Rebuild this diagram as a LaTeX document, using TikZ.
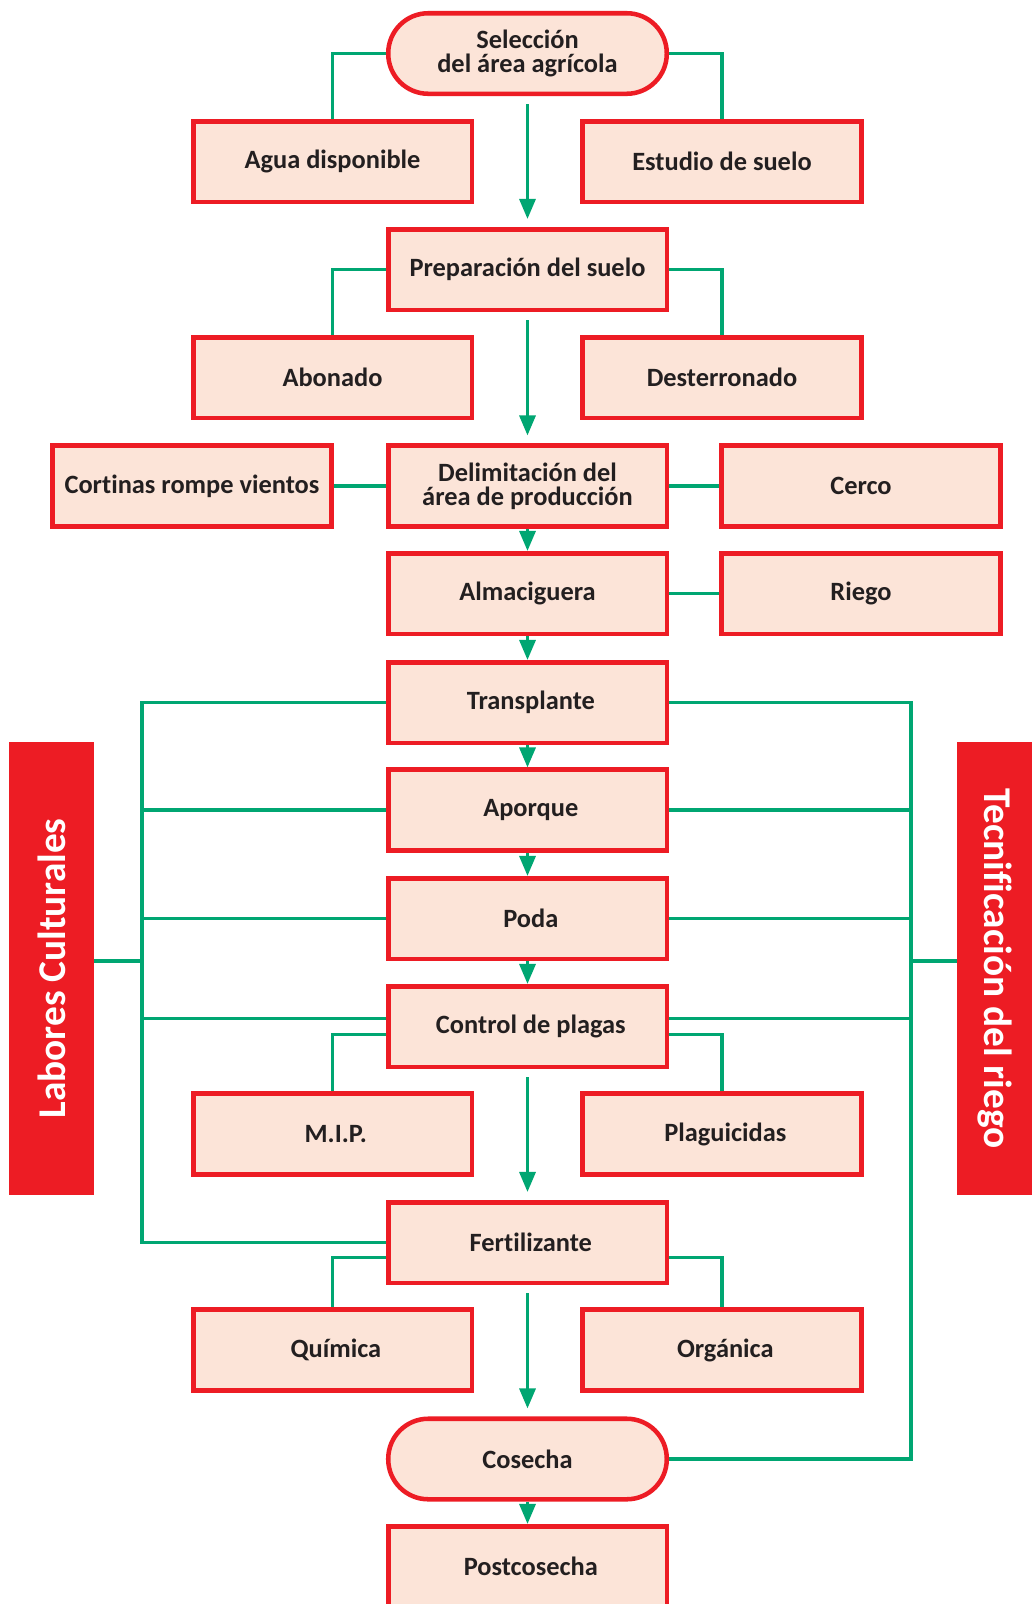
\documentclass[tikz,border=0pt]{standalone}
\usepackage{fontspec}
\setmainfont{Carlito}[Ligatures=NoCommon]
\usetikzlibrary{arrows.meta,backgrounds}
\definecolor{boxred}{HTML}{ED1C24}
\definecolor{boxfill}{HTML}{FCE4D8}
\definecolor{lgreen}{HTML}{00A672}
\definecolor{txt}{HTML}{231F20}
\begin{document}
\begin{tikzpicture}[x=0.75pt,y=-0.75pt,
 box/.style={draw=boxred, line width=3.4pt, fill=boxfill, minimum width=208.9pt, minimum height=60.4pt, inner sep=0pt, align=center, font=\fontsize{19.8}{18}\selectfont\bfseries, text=txt},
 pill/.style={box, rounded corners=30pt},
 nudge/.style={execute at begin node={\hspace*{5pt}}},
 conn/.style={draw=lgreen, line width=2.4pt},
 arr/.style={conn, -{Triangle[width=12pt,length=15pt]}},
 gaparr/.style={arr, shorten <=6pt, shorten >=6pt},
 bar/.style={fill=boxred, draw=none, text=white, font=\fontsize{29.5}{30}\selectfont\bfseries, inner sep=0pt}
]
\clip (0,0) rectangle (1032,1604);
% nodes
\node[pill] (sel) at (527.5,53.5) {Selección\\del área agrícola};
\node[box] (agua) at (332.5,161.5) {Agua disponible};
\node[box] (est) at (722,161.5) {Estudio de suelo};
\node[box] (prep) at (527.5,269.5) {Preparación del suelo};
\node[box] (abon) at (332.5,377.5) {Abonado};
\node[box] (dest) at (722,377.5) {Desterronado};
\node[box] (cort) at (192,486) {Cortinas rompe vientos};
\node[box] (delim) at (527.5,486) {Delimitación del\\área de producción};
\node[box] (cerco) at (861,486) {Cerco};
\node[box] (almac) at (527.5,593.5) {Almaciguera};
\node[box] (riego) at (861,593.5) {Riego};
\node[box,nudge] (trans) at (527.5,702.5) {Transplante};
\node[box,nudge] (aporq) at (527.5,810) {Aporque};
\node[box,nudge] (poda) at (527.5,918.5) {Poda};
\node[box,nudge] (ctrl) at (527.5,1026.5) {Control de plagas};
\node[box,nudge] (mip) at (332.5,1134) {M.I.P.};
\node[box,nudge] (plag) at (722,1134) {Plaguicidas};
\node[box,nudge] (fert) at (527.5,1242.5) {Fertilizante};
\node[box,nudge] (quim) at (332.5,1350) {Química};
\node[box,nudge] (org) at (722,1350) {Orgánica};
\node[pill] (cos) at (527.5,1459) {Cosecha};
\node[box,nudge] (post) at (527.5,1566.5) {Postcosecha};
\node[bar, rotate=90, minimum width=339.75pt, minimum height=63.75pt] (lab) at (51.5,968.5) {Labores Culturales};
\node[bar, rotate=-90, minimum width=339.75pt, minimum height=56.25pt] (tec) at (994.5,968.5) {Tecnificación del riego};
\coordinate (lbx) at (142,0);
\coordinate (rbx) at (911,0);
\coordinate (jy) at (0,961);
\begin{scope}[on background layer]
\fill[white] (0,0) rectangle (1032,1604);
\draw[conn] (sel.west) -| (agua.north);
\draw[conn] (sel.east) -| (est.north);
\draw[gaparr] (sel.south) -- (prep.north);
\draw[conn] (prep.west) -| (abon.north);
\draw[conn] (prep.east) -| (dest.north);
\draw[gaparr] (prep.south) -- (delim.north);
\draw[conn] (cort.east) -- (delim.west);
\draw[conn] (delim.east) -- (cerco.west);
\draw[arr] (delim.south) -- (almac.north);
\draw[conn] (almac.east) -- (riego.west);
\draw[arr] (almac.south) -- (trans.north);
\draw[arr] (trans.south) -- (aporq.north);
\draw[arr] (aporq.south) -- (poda.north);
\draw[arr] (poda.south) -- (ctrl.north);
\draw[gaparr] (ctrl.south) -- (fert.north);
\draw[gaparr] (fert.south) -- (cos.north);
\draw[arr] (cos.south) -- (post.north);
% left bracket
\draw[conn] (trans.west) -- (trans.west -| lbx) -- (fert.west -| lbx) -- (fert.west);
\draw[conn] (aporq.west) -- (aporq.west -| lbx);
\draw[conn] (poda.west) -- (poda.west -| lbx);
\draw[conn] ([yshift=5.75pt]ctrl.west) -- ([yshift=5.75pt]ctrl.west -| lbx);
\draw[conn] (lab.south |- jy) -- (lbx |- jy);
% right bracket
\draw[conn] (trans.east) -- (trans.east -| rbx) -- (cos.east -| rbx) -- (cos.east);
\draw[conn] (aporq.east) -- (aporq.east -| rbx);
\draw[conn] (poda.east) -- (poda.east -| rbx);
\draw[conn] ([yshift=5.75pt]ctrl.east) -- ([yshift=5.75pt]ctrl.east -| rbx);
\draw[conn] (tec.south |- jy) -- (rbx |- jy);
% sub branches
\draw[conn] ([yshift=-5.75pt]ctrl.west) -| (mip.north);
\draw[conn] ([yshift=-5.75pt]ctrl.east) -| (plag.north);
\draw[conn] ([yshift=-11.5pt]fert.west) -| (quim.north);
\draw[conn] ([yshift=-11.5pt]fert.east) -| (org.north);
\end{scope}
\end{tikzpicture}
\end{document}
